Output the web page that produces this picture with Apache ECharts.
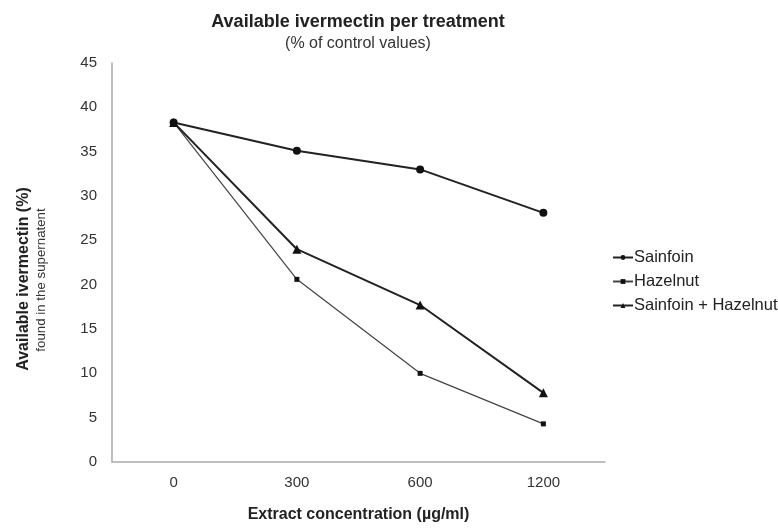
<!DOCTYPE html>
<html>
<head>
<meta charset="utf-8">
<script src="https://cdn.jsdelivr.net/npm/echarts@6/dist/echarts.min.js"></script>
<style>
  html, body { margin: 0; padding: 0; background: #fff; }
  #chart { width: 778px; height: 528px; }
</style>
</head>
<body>
<div id="chart"></div>
<script>
const concentrations = ['0', '300', '600', '1200'];
const sainfoin = [38.3, 35.1, 33.0, 28.1];
const hazelnut = [38.3, 20.6, 10.0, 4.3];
const sainfoinHazelnut = [38.3, 24.0, 17.7, 7.8];

const font = 'Liberation Sans, Arial, sans-serif';
const chart = echarts.init(document.getElementById('chart'));

const option = {
  backgroundColor: '#fff',
  animation: false,
  title: {
    text: 'Available ivermectin per treatment',
    subtext: '(% of control values)',
    left: 353,
    textAlign: 'center',
    top: 8,
    itemGap: 5,
    textStyle: { fontFamily: font, fontSize: 18, fontWeight: 'bold', color: '#222' },
    subtextStyle: { fontFamily: font, fontSize: 16, color: '#333' }
  },
  legend: {
    orient: 'vertical',
    left: 607,
    top: 244,
    itemWidth: 20,
    itemHeight: 6,
    itemGap: 7,
    textStyle: { fontFamily: font, fontSize: 16.5, color: '#222', padding: [0, 0, 0, -4] },
    data: ['Sainfoin', 'Hazelnut', 'Sainfoin + Hazelnut']
  },
  grid: { left: 112, right: 173, top: 63, bottom: 61 },
  xAxis: {
    type: 'category',
    data: concentrations,
    boundaryGap: true,
    name: 'Extract concentration (µg/ml)',
    nameLocation: 'middle',
    nameGap: 45,
    nameTextStyle: { fontFamily: font, fontSize: 16, fontWeight: 'bold', color: '#222' },
    axisLine: { lineStyle: { color: '#aaa', width: 1.5 } },
    axisTick: { show: false },
    axisLabel: { fontFamily: font, fontSize: 15, color: '#333', margin: 13 },
    splitLine: { show: false }
  },
  yAxis: {
    type: 'value',
    min: 0,
    max: 45,
    interval: 5,
    axisLine: { show: true, lineStyle: { color: '#aaa', width: 1.5 } },
    axisTick: { show: false },
    axisLabel: { fontFamily: font, fontSize: 15, color: '#333', margin: 15 },
    splitLine: { show: false }
  },
  graphic: [
    {
      type: 'text',
      x: 24,
      y: 279,
      rotation: Math.PI / 2,
      style: {
        text: 'Available ivermectin (%)',
        fontFamily: font, fontSize: 16, fontWeight: 'bold', fill: '#222',
        align: 'center', verticalAlign: 'middle'
      }
    },
    {
      type: 'text',
      x: 41,
      y: 280,
      rotation: Math.PI / 2,
      style: {
        text: 'found in the supernatent',
        fontFamily: font, fontSize: 13.3, fill: '#333',
        align: 'center', verticalAlign: 'middle'
      }
    }
  ],
  series: [
    {
      name: 'Sainfoin',
      type: 'line',
      data: sainfoin,
      symbol: 'circle',
      symbolSize: 8,
      lineStyle: { color: '#222', width: 2 },
      itemStyle: { color: '#111' }
    },
    {
      name: 'Hazelnut',
      type: 'line',
      data: hazelnut,
      symbol: 'rect',
      symbolSize: 5,
      lineStyle: { color: '#444', width: 1.2 },
      itemStyle: { color: '#111' }
    },
    {
      name: 'Sainfoin + Hazelnut',
      type: 'line',
      data: sainfoinHazelnut,
      symbol: 'triangle',
      symbolSize: 9,
      lineStyle: { color: '#222', width: 2 },
      itemStyle: { color: '#111' }
    }
  ]
};

chart.setOption(option);
</script>
</body>
</html>
